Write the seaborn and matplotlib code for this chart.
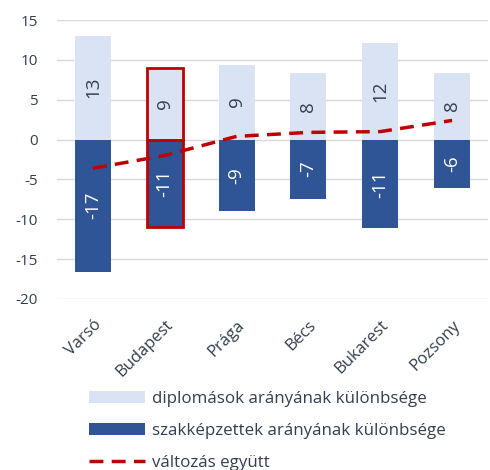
import matplotlib
matplotlib.use("Agg")
import matplotlib.pyplot as plt
import seaborn as sns
import numpy as np
from matplotlib.patches import Patch
from matplotlib.lines import Line2D

cities = ["Varsó", "Budapest", "Prága", "Bécs", "Bukarest", "Pozsony"]
diplomas = [13.0, 9.0, 9.4, 8.3, 12.1, 8.4]
szakkepzett = [-16.6, -11.0, -9.0, -7.4, -11.1, -6.1]
valtozas = [-3.6, -2.0, 0.4, 0.9, 1.0, 2.4]
yticks = [-20, -15, -10, -5, 0, 5, 10, 15]
legend_labels = ["diplomások arányának különbsége",
                 "szakképzettek arányának különbsége",
                 "változás együtt"]
highlight = "Budapest"

LIGHT = "#DAE3F3"
DARK = "#2F5597"
RED = "#C00000"
TXT = "#333F4F"

sns.set_theme(style="white")
plt.rcParams["font.family"] = ["Open Sans", "DejaVu Sans"]

fig = plt.figure(figsize=(4.9, 4.7), dpi=100)
ax = fig.add_axes([57/490, 1 - 299/470, (488 - 57)/490, (299 - 20)/470])

sns.barplot(x=cities, y=diplomas, color=LIGHT, width=0.5, ax=ax,
            saturation=1, linewidth=0, zorder=2)
sns.barplot(x=cities, y=szakkepzett, color=DARK, width=0.5, ax=ax,
            saturation=1, linewidth=0, zorder=2)

hi = cities.index(highlight)
n = len(cities)
for i, p in enumerate(ax.patches):
    if i % n == hi:
        p.set_edgecolor(RED)
        p.set_linewidth(2.0)

sns.lineplot(x=np.arange(n), y=valtozas, ax=ax, color=RED, linewidth=2.5,
             zorder=4)
ax.lines[-1].set_dashes([4, 2.4])
ax.lines[-1].set_dash_capstyle("butt")

for i in range(n):
    ax.text(i, diplomas[i] / 2, f"{diplomas[i]:.0f}", rotation=90,
            ha="center", va="center", fontsize=13.5, color=TXT, zorder=5)
    ax.text(i, szakkepzett[i] / 2, f"{szakkepzett[i]:.0f}", rotation=90,
            ha="center", va="center", fontsize=13.5, color="white", zorder=5)

ax.set_ylim(-20, 15)
ax.set_xlim(-0.5, n - 0.5)
ax.set_yticks(yticks)
ax.set_yticklabels([str(t) for t in yticks], fontsize=11, color=TXT)
ax.yaxis.grid(True, color="#D9D9D9", linewidth=1)
ax.set_axisbelow(True)
for s in ax.spines.values():
    s.set_visible(False)
ax.tick_params(axis="both", length=0)
ax.tick_params(axis="y", pad=14)
ax.set_xticks(range(n))
ax.set_xticklabels(cities, rotation=45, ha="right", rotation_mode="anchor",
                   fontsize=12, color=TXT)
ax.tick_params(axis="x", pad=13)
ax.set_xlabel("")
ax.set_ylabel("")

handles = [Patch(facecolor=LIGHT, edgecolor="none"),
           Patch(facecolor=DARK, edgecolor="none"),
           Line2D([0], [0], color=RED, linewidth=2.5, dashes=[4, 2.4])]
fig.legend(handles, legend_labels, loc="upper left",
           bbox_to_anchor=(89/490, 1 - 391/470), frameon=False,
           fontsize=12.2, handlelength=3.3, handletextpad=0.4,
           labelspacing=0.95, borderpad=0, borderaxespad=0,
           labelcolor=TXT)

fig.savefig("out.png", dpi=100)
